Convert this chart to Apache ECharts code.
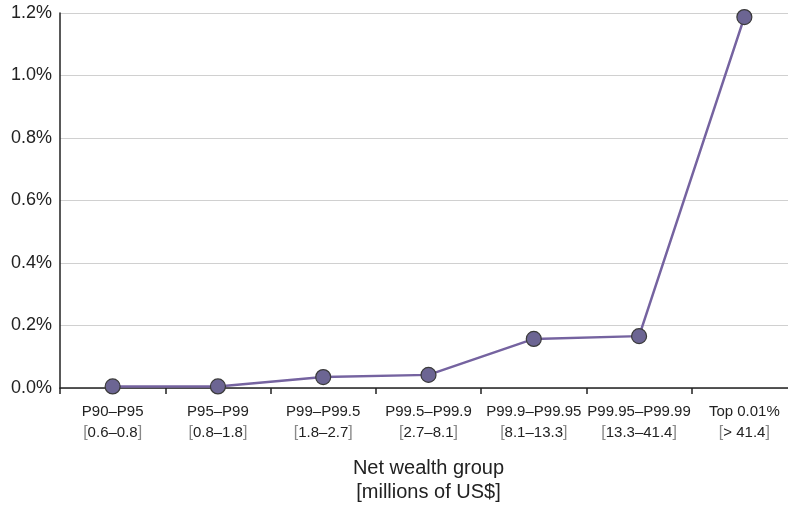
<!DOCTYPE html>
<html><head><meta charset="utf-8">
<script src="https://cdn.jsdelivr.net/npm/echarts@6/dist/echarts.min.js"></script>
<style>html,body{margin:0;padding:0;background:#fff}#c{width:788px;height:506px}</style>
</head><body><div id="c"></div>
<script>
const groups = ['P90–P95','P95–P99','P99–P99.5','P99.5–P99.9','P99.9–P99.95','P99.95–P99.99','Top 0.01%'];
const ranges = ['0.6–0.8','0.8–1.8','1.8–2.7','2.7–8.1','8.1–13.3','13.3–41.4','> 41.4'];
const values = [0.005, 0.005, 0.035, 0.042, 0.157, 0.166, 1.187];
const yTicks = [0, 0.2, 0.4, 0.6, 0.8, 1.0, 1.2];

const chart = echarts.init(document.getElementById('c'), null, {renderer:'canvas'});
const font = '"Liberation Sans", Arial, Helvetica, sans-serif';
chart.setOption({
  animation:false,
  grid:{left:60, top:13, width:737, height:375, outerBoundsMode:'none', containLabel:false},
  xAxis:{
    type:'category', data:groups.map((g,i)=>g+'\n{b|[}'+ranges[i]+'{b|]}'),
    boundaryGap:true,
    axisLine:{lineStyle:{color:'#222', width:1.5}},
    axisTick:{show:true, length:6, lineStyle:{color:'#222', width:1.5}},
    axisLabel:{color:'#222', fontSize:15, fontFamily:font, lineHeight:21, margin:13, interval:0,
      rich:{b:{color:'#888', fontSize:16, fontFamily:font}}},
    name:'Net wealth group\n[millions of US$]', nameLocation:'middle', nameGap:68,
    nameTextStyle:{color:'#222', fontSize:20, fontFamily:font, lineHeight:24}
  },
  yAxis:{
    type:'value', min:0, max:1.2, interval:0.2,
    axisLine:{show:true, lineStyle:{color:'#222', width:1.5}},
    axisTick:{show:false},
    splitLine:{lineStyle:{color:'#d0d0d0', width:1.2}},
    axisLabel:{color:'#222', fontSize:18, fontFamily:font, margin:8,
      formatter:v=>v.toFixed(1)+'%'}
  },
  series:[{
    type:'line', data:values, symbol:'circle', symbolSize:15,
    lineStyle:{color:'#7563a0', width:2.5},
    itemStyle:{color:'#6c6593', borderColor:'#3a3a3a', borderWidth:1.2},
    z:3
  }]
});
</script></body></html>
